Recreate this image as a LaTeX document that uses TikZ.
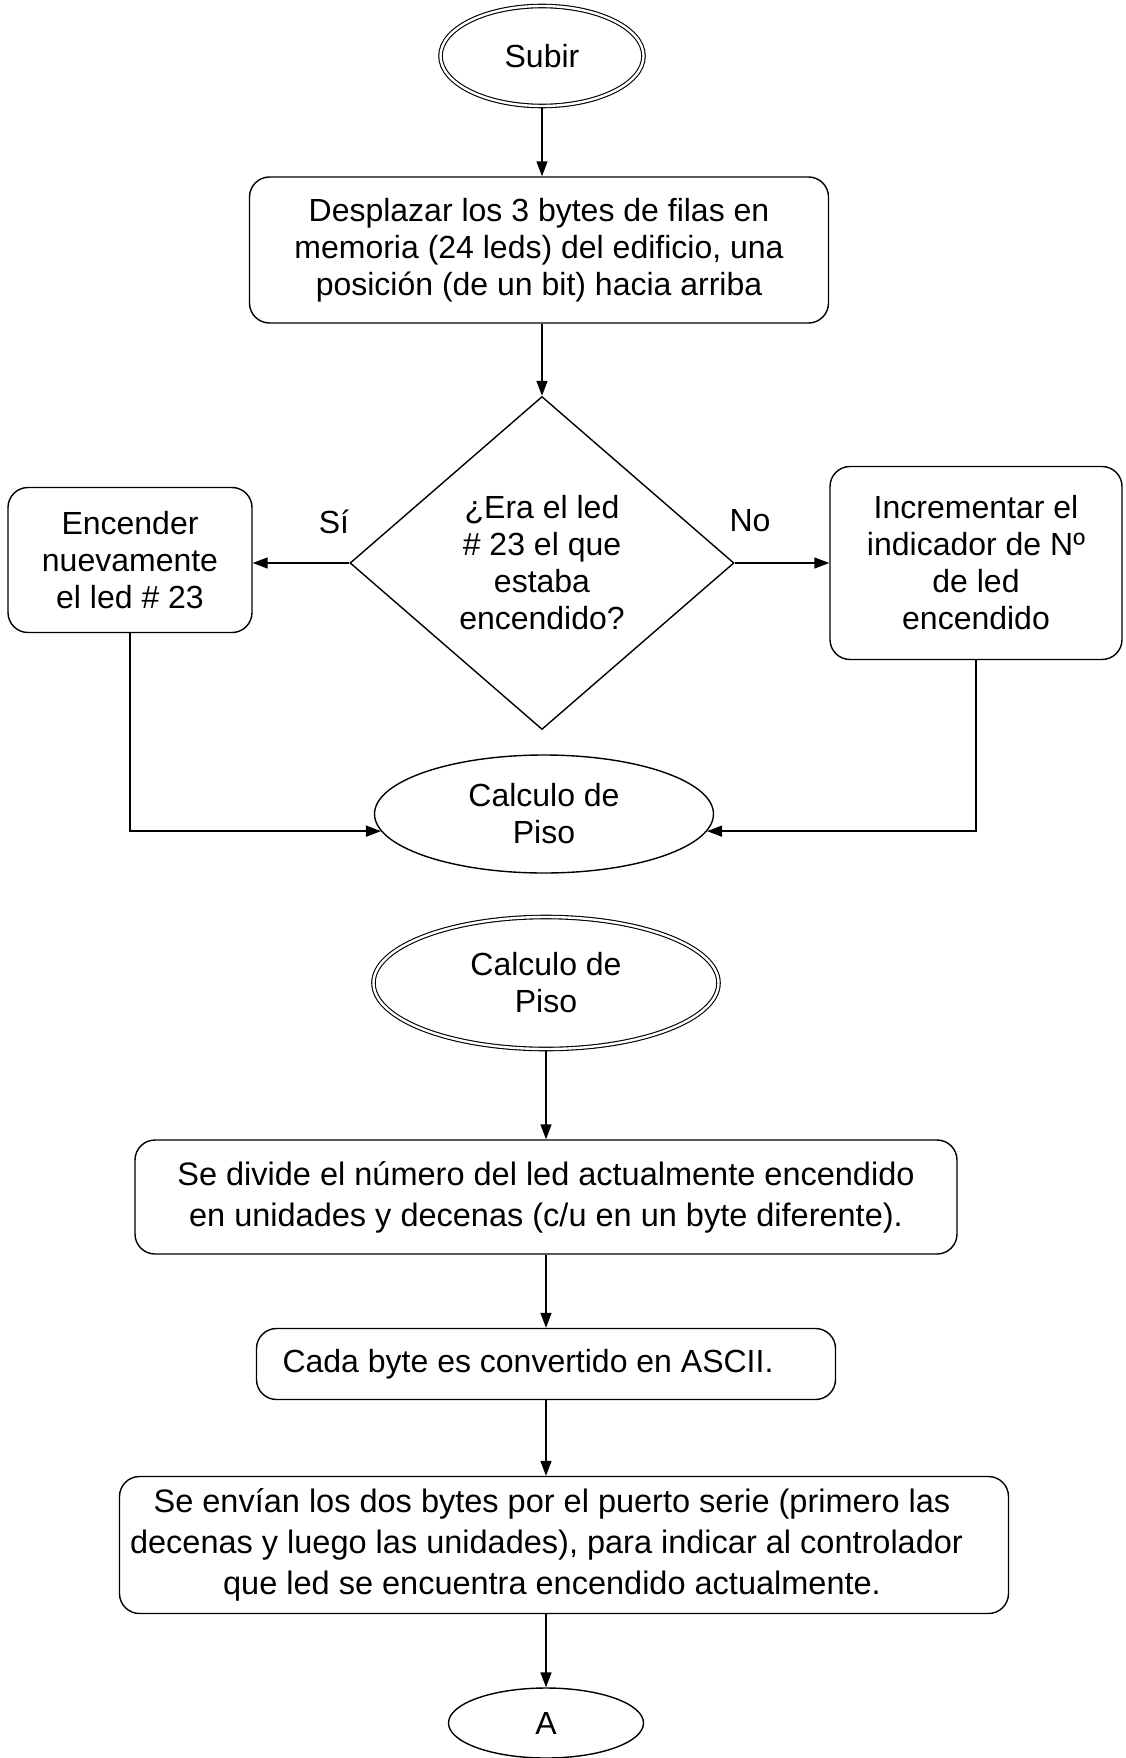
\documentclass[tikz,border=0pt]{standalone}
\usepackage{fontspec}
\setmainfont{Liberation Sans}
\usetikzlibrary{shapes.geometric,arrows.meta}
\begin{document}
\begin{tikzpicture}[x=1pt,y=-1pt,
  line width=1.4pt,
  every node/.style={font=\fontsize{32}{37}\selectfont, align=center},
  wide/.style={font=\fontsize{32.5}{41}\selectfont},
  proc/.style={draw, rounded corners=20pt, inner sep=0pt},
  term/.style={draw, ellipse, double, double distance=2.4pt, line width=1.1pt, inner sep=0pt},
  oval/.style={draw, ellipse, inner sep=0pt},
  decision/.style={draw, diamond, inner sep=0pt},
  arr/.style={-{Triangle[length=15pt,width=11pt]}}]
\useasboundingbox (0,0) rectangle (1125,1758);
\fill[white] (0,0) rectangle (1125,1758);

% first routine: Subir
\node[term, minimum width=203pt, minimum height=100pt] (subir) at (542,56) {Subir};
\node[proc, minimum width=579pt, minimum height=146pt] (desp) at (539,250)
  {Desplazar los 3 bytes de filas en\\memoria (24 leds) del edificio, una\\posición (de un bit) hacia arriba};
\node[decision, minimum width=384pt, minimum height=333pt] (era) at (542,563)
  {¿Era el led\\\# 23 el que\\estaba\\encendido?};
\node[proc, minimum width=244pt, minimum height=145pt] (enc) at (130,560)
  {Encender\\nuevamente\\el led \# 23};
\node[proc, minimum width=292pt, minimum height=193pt] (inc) at (976,563)
  {Incrementar el\\indicador de Nº\\de led\\encendido};
\node[oval, minimum width=339pt, minimum height=118pt] (calc1) at (544,814) {Calculo de\\Piso};
\node (si) at (334,522) {Sí};
\node (no) at (750,521) {No};

\draw[arr] (subir) -- (subir |- desp.north);
\draw[arr] (desp.south -| subir) -- (era);
\draw[arr] (era.west) -- (era.west -| enc.east);
\draw[arr] (era.east) -- (era.east -| inc.west);
\draw[arr] (enc.south) |- (calc1.186);
\draw[arr] (inc.south) |- (calc1.-6);

% second routine: Calculo de Piso
\node[term, minimum width=345pt, minimum height=132pt] (calc2) at (546,983) {Calculo de\\Piso};
\node[proc, wide, minimum width=822pt, minimum height=114pt] (div) at (546,1197)
  {Se divide el número del led actualmente encendido\\en unidades y decenas (c/u en un byte diferente).};
\node[proc, minimum width=579pt, minimum height=71pt] (cada) at (546,1364)
  {\hspace*{-36pt}Cada byte es convertido en ASCII.};
\node[proc, wide, minimum width=889pt, minimum height=137pt] (env) at (564,1545)
  {\hspace*{-24pt}Se envían los dos bytes por el puerto serie (primero las\\
   \hspace*{-35pt}decenas y luego las unidades), para indicar al controlador\\
   \hspace*{-24pt}que led se encuentra encendido actualmente.};
\node[oval, minimum width=195pt, minimum height=70pt] (a) at (546,1723) {A};

\draw[arr] (calc2) -- (div);
\draw[arr] (div) -- (cada);
\draw[arr] (cada) -- (cada |- env.north);
\draw[arr] (env.south -| cada) -- (a);
\end{tikzpicture}
\end{document}
